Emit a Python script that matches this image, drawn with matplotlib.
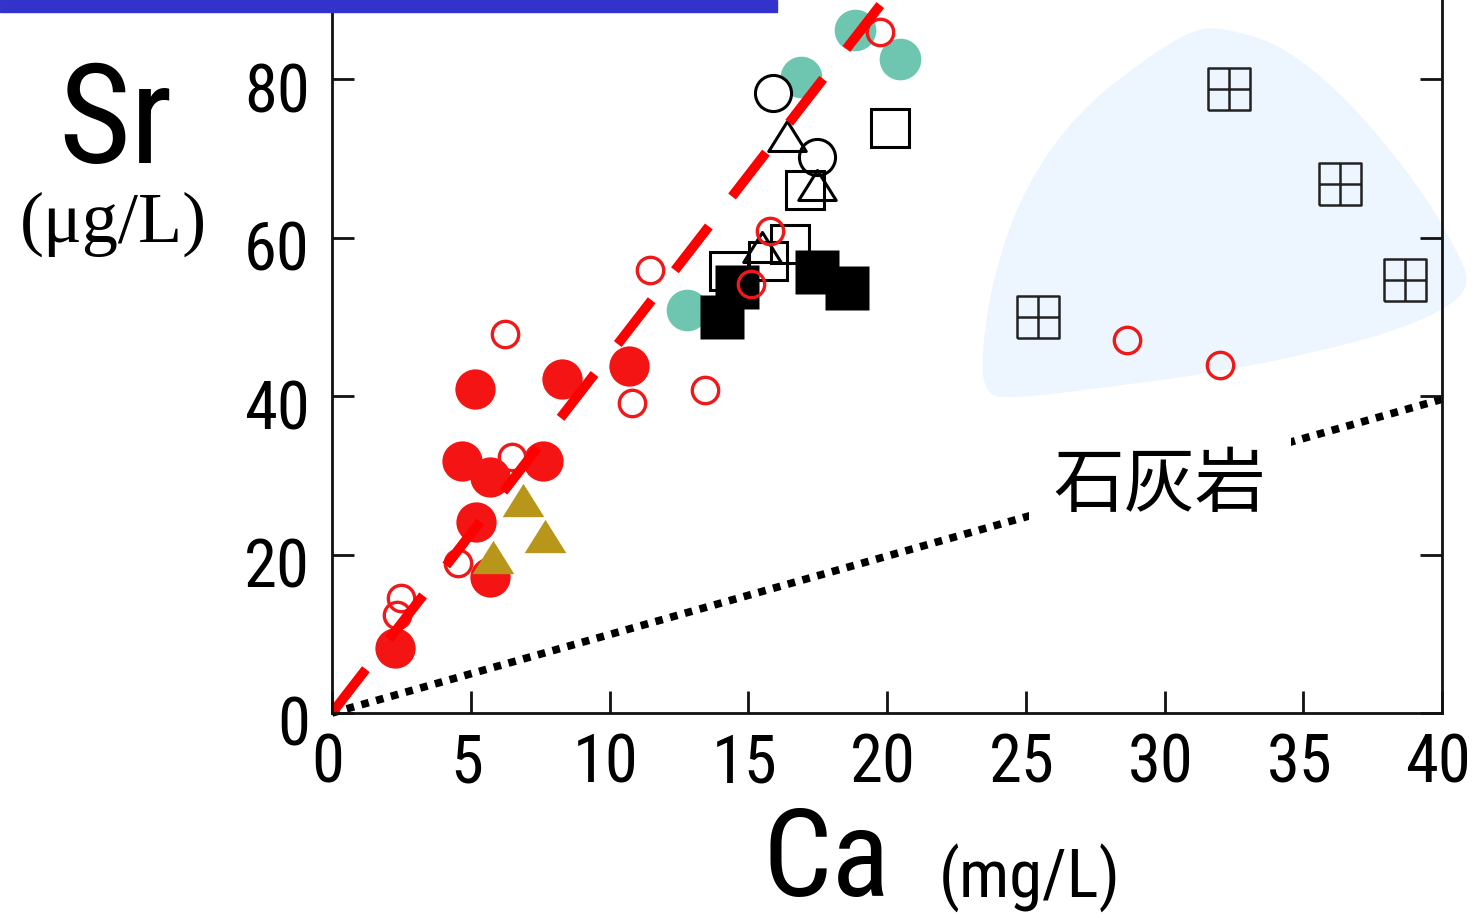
import numpy as np
import matplotlib
matplotlib.use("Agg")
import matplotlib.pyplot as plt
import matplotlib.transforms as mtransforms
from matplotlib.path import Path
from matplotlib.patches import PathPatch, Rectangle

plt.rcParams['font.family'] = ['Roboto Condensed', 'Liberation Sans Narrow', 'DejaVu Sans']
plt.rcParams['font.stretch'] = 'condensed'

# --- data (Ca mg/L, Sr ug/L) ---
red_fill_ca = [2.27, 5.7, 5.2, 4.7, 5.7, 7.6, 5.15, 8.3, 10.7]
red_fill_sr = [8.2, 17.2, 24.1, 31.8, 29.8, 31.8, 40.9, 42.1, 43.8]

red_open_ca = [2.5, 2.33, 4.55, 6.5, 6.23, 10.8, 11.46, 13.44, 15.78, 15.09, 19.75, 28.64, 32.0]
red_open_sr = [14.5, 12.4, 18.9, 32.3, 47.9, 39.1, 55.9, 40.8, 60.9, 54.2, 85.9, 47.1, 43.9]

gold_tri_ca = [6.9, 7.68, 5.8]
gold_tri_sr = [26.9, 22.4, 19.7]

teal_ca = [12.8, 16.9, 18.85, 20.47]
teal_sr = [50.9, 80.3, 86.2, 82.6]

open_circle_ca = [15.88, 17.47]
open_circle_sr = [78.2, 70.2]

open_tri_ca = [16.39, 17.47, 15.48]
open_tri_sr = [72.8, 66.7, 58.8]

open_sq_ca = [17.05, 16.5, 15.72, 14.32, 20.1]
open_sq_sr = [66.0, 59.2, 57.1, 55.8, 73.8]

black_sq_ca = [14.04, 14.6, 17.47, 18.55]
black_sq_sr = [50.0, 53.8, 55.7, 53.6]

grid_sq_ca = [25.45, 32.34, 36.32, 38.67]
grid_sq_sr = [50.0, 78.8, 66.8, 54.6]

# reference lines
red_line_ca = [0, 19.9]
red_line_sr = [0, 90]
lime_line_ca = [0, 40.2]
lime_line_sr = [0, 39.8]

# shaded region outline (control points)
region_ca = [32.0, 34.3, 36.8, 39.2, 40.6, 41.0, 40.4, 38.4, 35.3, 31.7,
             28.1, 24.4, 23.5, 23.4, 23.9, 25.0, 26.8, 29.3, 31.0]
region_sr = [86.6, 84.3, 76.8, 66.4, 58.0, 54.3, 51.5, 48.3, 45.4, 42.9,
             41.2, 39.6, 40.4, 45.8, 56.3, 66.6, 75.6, 82.6, 86.2]

x_ticks = [0, 5, 10, 15, 20, 25, 30, 35, 40]
y_ticks = [0, 20, 40, 60, 80]

W, H = 1480, 923
fig = plt.figure(figsize=(W / 100, H / 100), dpi=100)
ax = fig.add_axes([332 / W, (H - 713) / H, 1110 / W, 713 / H])
ax.set_xlim(0, 40)
ax.set_ylim(0, 90)

# blue bar at top
fig.patches.append(Rectangle((0, 1 - 12 / H), 777 / W, 12 / H, transform=fig.transFigure,
                             color="#3333CC", zorder=5))

# shaded region, smoothed with quadratic curves through the midpoints
pts = np.column_stack([region_ca, region_sr])
mids = (pts + np.roll(pts, -1, axis=0)) / 2
verts = [mids[-1]]
codes = [Path.MOVETO]
for p, m in zip(pts, mids):
    verts += [p, m]
    codes += [Path.CURVE3, Path.CURVE3]
ax.add_patch(PathPatch(Path(verts, codes), facecolor="#EDF5FE", edgecolor="none",
                       zorder=0.5, clip_on=False))

# limestone dotted line
ax.plot(lime_line_ca, lime_line_sr, color="black", lw=5.5, dashes=(1.0, 1.0),
        dash_capstyle="butt", zorder=1, clip_on=False)

ms_kw = dict(linestyle="none")
tri = Path([(-1, -0.8), (1, -0.8), (0, 0.8), (-1, -0.8)],
           [Path.MOVETO, Path.LINETO, Path.LINETO, Path.CLOSEPOLY])
ax.plot(red_fill_ca, red_fill_sr, marker="o", ms=29, mfc="#F51414", mec="none", zorder=2, **ms_kw)
ax.plot(gold_tri_ca, gold_tri_sr, marker=tri, ms=30, mfc="#B8961A", mec="none", zorder=2.1, **ms_kw)
ax.plot(teal_ca, teal_sr, marker="o", ms=30, mfc="#6EC6B0", mec="none", zorder=2.2, **ms_kw)
ax.plot(open_circle_ca, open_circle_sr, marker="o", ms=26, mfc="white", mec="black", mew=2.2,
        zorder=2.3, **ms_kw)
ax.plot(open_tri_ca, open_tri_sr, marker=tri, ms=27, mfc="none", mec="black", mew=2.2,
        zorder=2.4, **ms_kw)
ax.plot(open_sq_ca, open_sq_sr, marker="s", ms=28, mfc="none", mec="black", mew=2.2,
        zorder=2.5, **ms_kw)
ax.plot(black_sq_ca, black_sq_sr, marker="s", ms=31, mfc="black", mec="none", zorder=2.6, **ms_kw)
ax.plot(red_open_ca, red_open_sr, marker="o", ms=19, mfc="none", mec="#F01818", mew=2.4,
        zorder=2.7, **ms_kw)

grid_marker = Path([(-1, -1), (1, -1), (1, 1), (-1, 1), (-1, -1), (0, -1), (0, 1), (-1, 0), (1, 0)],
                   [Path.MOVETO, Path.LINETO, Path.LINETO, Path.LINETO, Path.LINETO,
                    Path.MOVETO, Path.LINETO, Path.MOVETO, Path.LINETO])
ax.plot(grid_sq_ca, grid_sq_sr, marker=grid_marker, ms=30, mfc="none", mec="#222222", mew=1.8,
        zorder=3, **ms_kw)

# red dashed line
ax.plot(red_line_ca, red_line_sr, color="#FF0000", lw=7, dashes=(5.7, 3.9),
        dash_capstyle="butt", zorder=2.8)

# axes styling
for side in ["left", "bottom", "right"]:
    ax.spines[side].set_linewidth(2)
    ax.spines[side].set_color("#111111")
    ax.spines[side].set_zorder(4)
ax.spines["top"].set_visible(False)
ax.set_xticks(x_ticks)
ax.set_yticks(y_ticks)
ax.tick_params(direction="in", length=16, width=2, color="#111111", labelsize=48, pad=16,
               right=True, labelright=False)
ax.tick_params(axis="x", pad=14)
off = mtransforms.ScaledTranslation(0, -0.08, fig.dpi_scale_trans)
for lab in ax.get_yticklabels():
    lab.set_transform(lab.get_transform() + off)
off_x = mtransforms.ScaledTranslation(-0.04, 0, fig.dpi_scale_trans)
for lab in ax.get_xticklabels():
    lab.set_transform(lab.get_transform() + off_x)

# labels
fig.text(115 / W, 1 - 124 / H, "Sr", fontsize=100, ha="center", va="center")
fig.text(113 / W, 1 - 224 / H, "(μg/L)", fontsize=52, ha="center", va="center",
         family=["Liberation Serif", "DejaVu Serif"])
fig.text(826 / W, 0.002, "Ca", fontsize=88, ha="center", va="bottom")
fig.text(1030 / W, 1 - 878 / H, "(mg/L)", fontsize=48, ha="center", va="center")

ax.text(1160 / W, 1 - 485 / H, "石灰岩", transform=fig.transFigure, fontsize=51,
        ha="center", va="center", family=["Noto Sans CJK JP", "DejaVu Sans"], zorder=6,
        bbox=dict(facecolor="white", edgecolor="none", pad=18))

fig.savefig("out.png", dpi=100)
